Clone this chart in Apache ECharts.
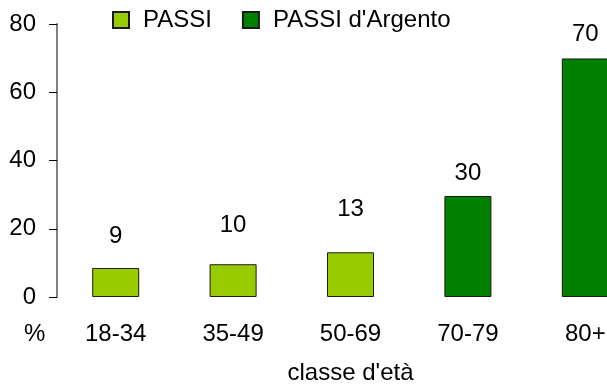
<!DOCTYPE html>
<html>
<head>
<meta charset="utf-8">
<script src="https://cdn.jsdelivr.net/npm/echarts@6/dist/echarts.min.js"></script>
<style>html,body{margin:0;padding:0;background:#fff}#c{width:607px;height:387px}</style>
</head>
<body>
<div id="c"></div>
<script>
var categories = ['18-34', '35-49', '50-69', '70-79', '80+'];
var passi = [8.5, 9.6, 13.1, null, null];
var passiArgento = [null, null, null, 29.6, 69.9];
var shownLabels = [9, 10, 13, 30, 70];
var yTicks = [0, 20, 40, 60, 80];
var seriesNames = ['PASSI', "PASSI d'Argento"];

// label distances above bars (style)
var labelGap = [20, 27, 31, 11, 12];

var FONT = 'Liberation Sans, Arial, sans-serif';
var chart = echarts.init(document.getElementById('c'), null, {renderer: 'canvas'});

function mkData(vals) {
  return vals.map(function (v, i) {
    if (v == null) return null;
    return {value: v, label: {distance: labelGap[i], formatter: String(shownLabels[i])}};
  });
}

chart.setOption({
  animation: false,
  backgroundColor: '#fff',
  textStyle: {fontFamily: FONT},
  legend: {
    left: 107, top: 3,
    itemWidth: 16, itemHeight: 16, itemGap: 30,
    icon: 'rect',
    textStyle: {fontSize: 24, color: '#000', fontFamily: FONT, padding: [0, 0, 0, 9]},
    data: seriesNames
  },
  grid: {left: 57, right: -37, top: 24, bottom: 90, containLabel: false, outerBoundsMode: 'none'},
  xAxis: {
    type: 'category',
    data: categories,
    axisLine: {show: false},
    axisTick: {show: false},
    axisLabel: {fontSize: 24, color: '#000', margin: 25, fontFamily: FONT},
    name: "classe d'età",
    nameLocation: 'middle',
    nameGap: 64,
    nameTextStyle: {fontSize: 24, color: '#000', fontFamily: FONT}
  },
  yAxis: {
    type: 'value',
    min: yTicks[0], max: yTicks[yTicks.length - 1], interval: 20,
    splitLine: {show: false},
    axisLine: {show: true, lineStyle: {color: '#808080', width: 2}},
    axisTick: {show: true, length: 8, lineStyle: {color: '#000', width: 1}},
    axisLabel: {fontSize: 24, color: '#000', margin: 21, fontFamily: FONT}
  },
  graphic: [{
    type: 'text', left: 24, top: 322,
    style: {text: '%', fontSize: 24, fill: '#000', fontFamily: FONT}
  }],
  series: [{
    name: seriesNames[0], type: 'bar', barWidth: 47, barGap: '-100%',
    itemStyle: {color: '#99CC00', borderColor: '#1a1a1a', borderWidth: 1},
    label: {show: true, position: 'top', fontSize: 24, color: '#000', fontFamily: FONT},
    data: mkData(passi)
  }, {
    name: seriesNames[1], type: 'bar', barWidth: 47, barGap: '-100%',
    itemStyle: {color: '#008000', borderColor: '#1a1a1a', borderWidth: 1},
    label: {show: true, position: 'top', fontSize: 24, color: '#000', fontFamily: FONT},
    data: mkData(passiArgento)
  }]
});
</script>
</body>
</html>
